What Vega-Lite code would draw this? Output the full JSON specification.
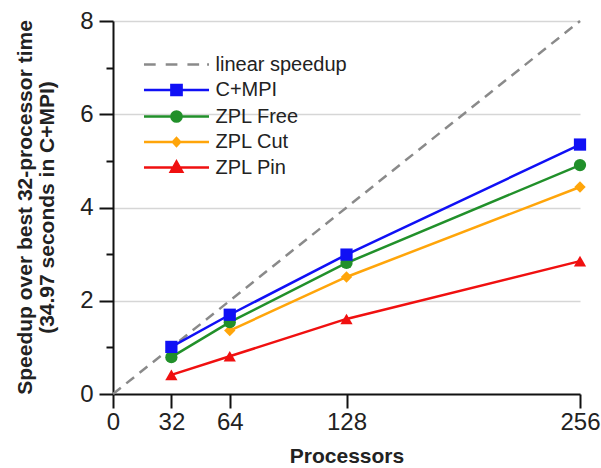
{
  "$schema": "https://vega.github.io/schema/vega-lite/v6.json",
  "width": 467,
  "height": 373,
  "autosize": {"type": "none"},
  "padding": {"left": 113, "top": 21, "right": 21, "bottom": 74},
  "background": "white",
  "config": {
    "view": {"stroke": null},
    "font": "Liberation Sans",
    "axis": {"labelFont": "Liberation Sans", "titleFont": "Liberation Sans"}
  },
  "data": {
    "values": [
      {"series": "linear speedup", "processors": 0, "speedup": 0},
      {"series": "linear speedup", "processors": 256, "speedup": 8},
      {"series": "ZPL Pin", "processors": 32, "speedup": 0.41},
      {"series": "ZPL Pin", "processors": 64, "speedup": 0.81},
      {"series": "ZPL Pin", "processors": 128, "speedup": 1.61},
      {"series": "ZPL Pin", "processors": 256, "speedup": 2.85},
      {"series": "ZPL Cut", "processors": 64, "speedup": 1.36},
      {"series": "ZPL Cut", "processors": 128, "speedup": 2.51},
      {"series": "ZPL Cut", "processors": 256, "speedup": 4.44},
      {"series": "ZPL Free", "processors": 32, "speedup": 0.79},
      {"series": "ZPL Free", "processors": 64, "speedup": 1.54},
      {"series": "ZPL Free", "processors": 128, "speedup": 2.81},
      {"series": "ZPL Free", "processors": 256, "speedup": 4.91},
      {"series": "C+MPI", "processors": 32, "speedup": 1.01},
      {"series": "C+MPI", "processors": 64, "speedup": 1.70},
      {"series": "C+MPI", "processors": 128, "speedup": 2.99},
      {"series": "C+MPI", "processors": 256, "speedup": 5.35}
    ]
  },
  "encoding": {
    "x": {
      "field": "processors", "type": "quantitative",
      "scale": {"domain": [0, 256], "nice": false, "zero": true},
      "axis": {
        "values": [0, 32, 64, 128, 256],
        "grid": false,
        "tickSize": 14, "tickWidth": 2, "tickColor": "#111",
        "domainWidth": 2, "domainColor": "#111",
        "labelFontSize": 24, "labelColor": "#222", "labelPadding": 2,
        "labelFlush": false, "labelOverlap": false,
        "title": "Processors", "titleFontSize": 21, "titleFontWeight": "bold",
        "titleColor": "#222", "titleBaseline": "alphabetic", "titleY": 68
      }
    },
    "y": {
      "field": "speedup", "type": "quantitative",
      "scale": {"domain": [0, 8], "nice": false},
      "axis": {
        "values": [0, 1, 2, 3, 4, 5, 6, 7, 8],
        "labelExpr": "datum.value % 2 ? '' : datum.label",
        "grid": true, "gridColor": "#d6d6d6", "gridWidth": 1.5,
        "gridOpacity": {"condition": {"test": "datum.value % 2 === 1 || datum.value === 0", "value": 0}, "value": 1},
        "tickSize": {"condition": {"test": "datum.value % 2 === 1", "value": 7}, "value": 14},
        "tickWidth": 2, "tickColor": "#111",
        "domainWidth": 2, "domainColor": "#111",
        "labelFontSize": 24, "labelColor": "#222", "labelPadding": 6,
        "labelFlush": false, "labelOverlap": false,
        "title": ["Speedup over best 32-processor time", "(34.97 seconds in C+MPI)"],
        "titleFontSize": 21, "titleFontWeight": "bold", "titleColor": "#222",
        "titleLineHeight": 22, "titleBaseline": "alphabetic", "titleAlign": "center",
        "titleAngle": -90, "titleX": -82, "titleY": 186
      }
    }
  },
  "layer": [
    {
      "mark": {"type": "point", "filled": true, "opacity": 0},
      "encoding": {
        "color": {
          "field": "series", "type": "nominal",
          "scale": {
            "domain": ["linear speedup", "C+MPI", "ZPL Free", "ZPL Cut", "ZPL Pin"],
            "range": ["#8a8a8a", "#1010f5", "#21902a", "#ffa50a", "#f01010"]
          },
          "legend": {
            "title": null, "orient": "none", "legendX": 27, "legendY": 33.5,
            "padding": 0, "symbolSize": 144, "symbolStrokeWidth": 2.5, "symbolOffset": 26.5,
            "labelFontSize": 20, "labelFont": "Liberation Sans", "labelColor": "#222",
            "labelOffset": 29, "rowPadding": 4.5,
            "encode": {"symbols": {"update": {"stroke": {"scale": "color", "field": "value"}, "fill": {"scale": "color", "field": "value"}, "strokeWidth": {"value": 2.5}}}}
          }
        },
        "shape": {
          "field": "series", "type": "nominal",
          "scale": {
            "domain": ["linear speedup", "C+MPI", "ZPL Free", "ZPL Cut", "ZPL Pin"],
            "range": [
              "M-5.42,0H-3.47M-1.8,0H0.15M1.82,0H3.77M5.1,0H5.42",
              "M-5.42,0H5.42M-0.85,-0.85H0.85V0.85H-0.85Z",
              "M-5.42,0H5.42M0.85,0A0.85,0.85 0 1 1 -0.85,0A0.85,0.85 0 1 1 0.85,0Z",
              "M-5.42,0H5.42M0,-0.65L0.6,0L0,0.65L-0.6,0Z",
              "M-5.42,0H5.42M0,-1L0.95,0.7H-0.95Z"
            ]
          },
          "legend": {
            "title": null, "orient": "none", "legendX": 27, "legendY": 33.5,
            "padding": 0, "symbolSize": 144, "symbolStrokeWidth": 2.5, "symbolOffset": 26.5,
            "labelFontSize": 20, "labelFont": "Liberation Sans", "labelColor": "#222",
            "labelOffset": 29, "rowPadding": 4.5
          }
        }
      }
    },
    {
      "transform": [{"filter": "datum.series === 'linear speedup'"}],
      "mark": {"type": "line", "strokeWidth": 2.5, "strokeDash": [10, 7]},
      "encoding": {"color": {"field": "series", "type": "nominal"}}
    },
    {
      "transform": [{"filter": "datum.series !== 'linear speedup'"}],
      "mark": {"type": "line", "strokeWidth": 2.5},
      "encoding": {"color": {"field": "series", "type": "nominal"}}
    },
    {
      "transform": [{"filter": "datum.series === 'ZPL Pin'"}],
      "mark": {"type": "point", "filled": true, "opacity": 1, "shape": "triangle-up", "size": 150},
      "encoding": {"color": {"field": "series", "type": "nominal"}}
    },
    {
      "transform": [{"filter": "datum.series === 'ZPL Cut'"}],
      "mark": {"type": "point", "filled": true, "opacity": 1, "shape": "diamond", "size": 130},
      "encoding": {"color": {"field": "series", "type": "nominal"}}
    },
    {
      "transform": [{"filter": "datum.series === 'ZPL Free'"}],
      "mark": {"type": "point", "filled": true, "opacity": 1, "shape": "circle", "size": 150},
      "encoding": {"color": {"field": "series", "type": "nominal"}}
    },
    {
      "transform": [{"filter": "datum.series === 'C+MPI'"}],
      "mark": {"type": "point", "filled": true, "opacity": 1, "shape": "square", "size": 150},
      "encoding": {"color": {"field": "series", "type": "nominal"}}
    }
  ]
}
